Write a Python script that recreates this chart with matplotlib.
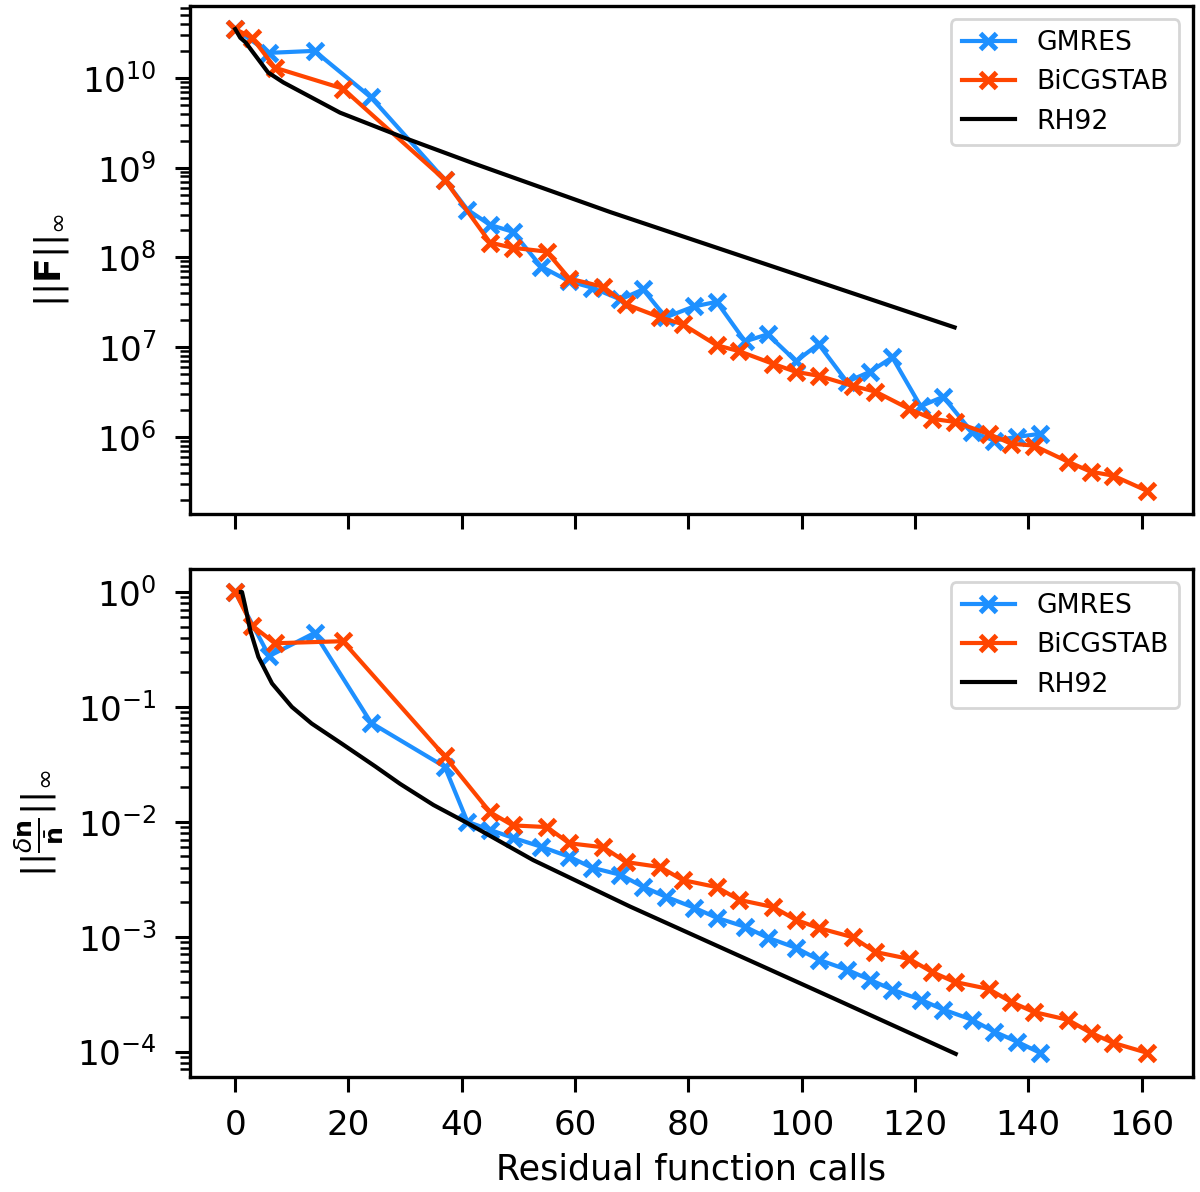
import numpy as np
import matplotlib
matplotlib.use("Agg")
import matplotlib.pyplot as plt

# ---- data ----
gm_calls = [0, 6, 14, 24, 37, 41, 45, 49, 54, 59, 63, 68, 72, 76, 81, 85, 90, 94,
            99, 103, 108, 112, 116, 121, 125, 130, 134, 138, 142]
gm_F = [3.5e10, 1.9e10, 2.0e10, 6.05e9, 7.3e8, 3.4e8, 2.3e8, 1.93e8, 7.9e7, 5.4e7,
        4.6e7, 3.4e7, 4.4e7, 2.15e7, 2.84e7, 3.2e7, 1.16e7, 1.39e7, 6.98e6, 1.08e7,
        4.1e6, 5.3e6, 7.7e6, 2.2e6, 2.8e6, 1.14e6, 9.1e5, 1.0e6, 1.08e6]
gm_dn = [1.0, 0.277, 0.44, 0.0726, 0.0301, 0.0100, 0.0085, 0.00726, 0.00607, 0.00496,
         0.00398, 0.00346, 0.00272, 0.00223, 0.00179, 0.00146, 0.00122, 0.00098,
         0.0008, 0.00063, 0.000516, 0.000423, 0.000346, 0.000283, 0.000232,
         0.00019, 0.000149, 0.000122, 0.000098]

bi_calls = [0, 3, 7, 19, 37, 45, 49, 55, 59, 65, 69, 75, 79, 85, 89, 95, 99, 103,
            109, 113, 119, 123, 127, 133, 137, 141, 147, 151, 155, 161]
bi_F = [3.5e10, 2.8e10, 1.3e10, 7.6e9, 7.3e8, 1.46e8, 1.28e8, 1.16e8, 5.8e7, 4.7e7,
        3.0e7, 2.15e7, 1.8e7, 1.05e7, 9.0e6, 6.5e6, 5.3e6, 4.8e6, 3.7e6, 3.2e6,
        2.05e6, 1.59e6, 1.47e6, 1.08e6, 8.4e5, 8.0e5, 5.3e5, 4.1e5, 3.7e5, 2.5e5]
bi_dn = [1.0, 0.51, 0.358, 0.373, 0.0372, 0.0121, 0.0093, 0.0090, 0.0065, 0.0060,
         0.00446, 0.00404, 0.00311, 0.0027, 0.00209, 0.00181, 0.0014, 0.00119,
         0.00099, 0.000736, 0.00064, 0.000493, 0.000404, 0.000351, 0.00027,
         0.000221, 0.000189, 0.000146, 0.000119, 0.0000975]

rh_calls_F = [0, 0.9, 1.8, 5.8, 8.5, 18.5, 29.6, 42, 66.2, 127]
rh_F = [3.5e10, 2.8e10, 2.5e10, 1.15e10, 8.9e9, 4.1e9, 2.18e9, 1.12e9, 3.2e8, 1.66e7]
rh_calls_dn = [1, 1.2, 1.8, 2.65, 4.1, 6.5, 10, 13.5, 18.8, 24.7, 29.1, 35.0, 40.9,
               52.6, 69.7, 105.6, 127.2]
rh_dn = [1.0, 1.0, 0.741, 0.465, 0.272, 0.160, 0.100, 0.0716, 0.0479, 0.0304, 0.0214,
         0.0140, 0.0098, 0.00464, 0.00183, 0.000291, 0.0000955]

C_GM, C_BI = "#1e90ff", "#ff4500"

plt.rcParams.update({
    "font.family": "DejaVu Sans", "axes.linewidth": 1.2,
    "xtick.major.size": 5.4, "ytick.major.size": 5.4,
    "xtick.minor.size": 3.6, "ytick.minor.size": 3.6,
    "xtick.major.width": 1.1, "ytick.major.width": 1.1,
    "xtick.minor.width": 0.9, "ytick.minor.width": 0.9,
    "xtick.major.pad": 6.0, "ytick.major.pad": 6.5,
})

fig, (ax1, ax2) = plt.subplots(2, 1, sharex=True, figsize=(6.0, 5.96), dpi=200)
fig.subplots_adjust(left=0.158, right=0.994, top=0.995, bottom=0.0965, hspace=0.108)

for ax, gy, by, rx, ry in [(ax1, gm_F, bi_F, rh_calls_F, rh_F),
                           (ax2, gm_dn, bi_dn, rh_calls_dn, rh_dn)]:
    ax.plot(gm_calls, gy, "-x", color=C_GM, lw=1.5, ms=6, mew=1.8, label="GMRES")
    ax.plot(bi_calls, by, "-x", color=C_BI, lw=1.5, ms=6, mew=1.8, label="BiCGSTAB")
    ax.plot(rx, ry, "-", color="black", lw=1.5, label="RH92")
    ax.set_yscale("log")
    ax.tick_params(labelsize=12.3)
    ax.legend(loc="upper right", fontsize=9.6)

ax1.set_ylabel(r"$||\mathbf{F}||_\infty$", fontsize=13)
ax2.set_ylabel(r"$||\frac{\delta\mathbf{n}}{\bar{\mathbf{n}}}||_\infty$", fontsize=13)
ax2.set_xlabel("Residual function calls", fontsize=12.6)
ax2.set_xticks([0, 20, 40, 60, 80, 100, 120, 140, 160])

fig.savefig("out.png", dpi=200)
